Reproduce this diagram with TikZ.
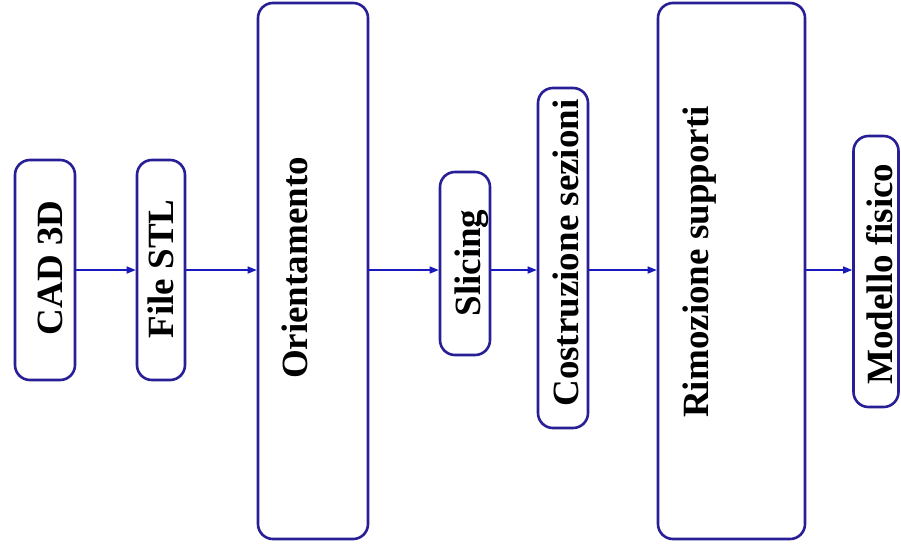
\documentclass[tikz,border=0pt]{standalone}
\usepackage{fontspec}
\setmainfont{Liberation Serif}
\usetikzlibrary{arrows.meta}
\definecolor{boxblue}{RGB}{40,30,150}
\definecolor{arrowblue}{RGB}{25,25,190}
\tikzset{
  stage/.style={draw=boxblue, line width=2.6pt, rounded corners=15pt, fill=white, inner sep=0pt},
  steptext/.style={rotate=90, anchor=base, inner sep=0pt, font=\fontsize{37}{40}\selectfont\bfseries},
  flow/.style={draw=arrowblue, line width=1.4pt, -{Triangle[length=9pt,width=7pt]}}
}
\begin{document}
\begin{tikzpicture}[x=1pt, y=-1pt]
  \useasboundingbox (0,0) rectangle (901,554);
  \fill[white] (0,0) rectangle (901,554);

  % process stages (boxes)
  \node[stage, minimum width=60pt,  minimum height=220pt] (cad)     at (45,270)    {};
  \node[stage, minimum width=48pt,  minimum height=220pt] (stl)     at (161,270)   {};
  \node[stage, minimum width=110pt, minimum height=536pt] (orient)  at (313,271)   {};
  \node[stage, minimum width=50pt,  minimum height=183pt] (slice)   at (465,263.5) {};
  \node[stage, minimum width=50pt,  minimum height=340pt] (costr)   at (563,258)   {};
  \node[stage, minimum width=147pt, minimum height=536pt] (rimoz)   at (731.5,271) {};
  \node[stage, minimum width=45pt,  minimum height=271pt] (modello) at (876,271.5) {};

  % stage labels, read bottom to top
  \node[steptext] (tcad)     at (62,268)  {CAD 3D};
  \node[steptext] (tstl)     at (173,269) {File STL};
  \node[steptext] (torient)  at (307,268) {Orientamento};
  \node[steptext] (tslice)   at (480,263) {Slicing};
  \node[steptext] (tcostr)   at (578,253) {Costruzione sezioni};
  \node[steptext] (trimoz)   at (708,262) {Rimozione supporti};
  \node[steptext] (tmodello) at (892,274) {Modello fisico};

  % flow arrows along a common horizontal axis
  \coordinate (axis) at (0,270);
  \draw[flow] (cad.east |- axis)    -- (stl.west |- axis);
  \draw[flow] (stl.east |- axis)    -- (orient.west |- axis);
  \draw[flow] (orient.east |- axis) -- (slice.west |- axis);
  \draw[flow] (slice.east |- axis)  -- (costr.west |- axis);
  \draw[flow] (costr.east |- axis)  -- (rimoz.west |- axis);
  \draw[flow] (rimoz.east |- axis)  -- (modello.west |- axis);
\end{tikzpicture}
\end{document}
